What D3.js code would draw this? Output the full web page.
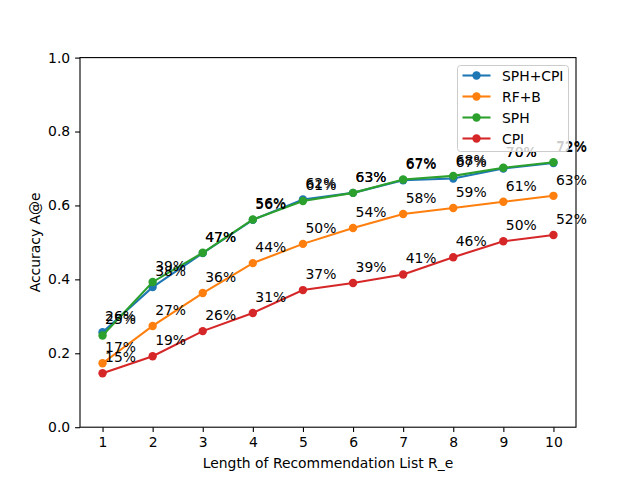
<!DOCTYPE html>
<html>
<head>
<meta charset="utf-8">
<script src="https://cdn.jsdelivr.net/npm/d3@7"></script>
<style>
  body { margin: 0; background: #fff; }
  text { font-family: "DejaVu Sans", sans-serif; }
</style>
</head>
<body>
<div id="chart"></div>
<script>
// list lengths on the x axis
var listLengths = [1, 2, 3, 4, 5, 6, 7, 8, 9, 10];
// accuracy for each method
var sphCpi = [0.257, 0.379, 0.471, 0.561, 0.616, 0.634, 0.668, 0.673, 0.700, 0.715];
var rfB    = [0.173, 0.274, 0.363, 0.444, 0.496, 0.539, 0.577, 0.593, 0.610, 0.626];
var sph    = [0.248, 0.393, 0.472, 0.562, 0.612, 0.634, 0.670, 0.680, 0.702, 0.717];
var cpi    = [0.146, 0.192, 0.260, 0.309, 0.371, 0.390, 0.413, 0.460, 0.503, 0.520];
var seriesNames = ['SPH+CPI', 'RF+B', 'SPH', 'CPI'];
var seriesColors = ['#1f77b4', '#ff7f0e', '#2ca02c', '#d62728'];
var yTicks = [0.0, 0.2, 0.4, 0.6, 0.8, 1.0];

var allSeries = [sphCpi, rfB, sph, cpi];

var width = 640, height = 480;
var plotL = 80, plotR = 576, plotT = 57.6, plotB = 427.2;

var svg = d3.select('#chart').append('svg')
    .attr('width', width)
    .attr('height', height);

var x = d3.scaleLinear().domain([0.55, 10.45]).range([plotL, plotR]);
var y = d3.scaleLinear().domain([0, 1]).range([plotB, plotT]);

//axes
var xAxis = svg.append('g')
    .attr('transform', 'translate(0,' + plotB + ')')
    .call(d3.axisBottom(x).tickValues(listLengths).tickSize(4.9).tickPadding(4.9).tickFormat(d3.format('d')));
var yAxis = svg.append('g')
    .attr('transform', 'translate(' + plotL + ',0)')
    .call(d3.axisLeft(y).tickValues(yTicks).tickSize(4.9).tickPadding(4.9).tickFormat(d3.format('.1f')));

[xAxis, yAxis].forEach(function (a) {
  a.select('.domain').remove();
  a.selectAll('.tick line').attr('stroke', '#000').attr('stroke-width', 1.1);
  a.selectAll('.tick text').attr('fill', '#000').style('font-size', '13.9px')
    .style('font-family', '"DejaVu Sans", sans-serif');
});

//lines and markers
var line = d3.line()
    .x(function (d, i) { return x(listLengths[i]); })
    .y(function (d) { return y(d); });

allSeries.forEach(function (vals, s) {
  svg.append('path')
      .datum(vals)
      .attr('d', line)
      .attr('fill', 'none')
      .attr('stroke', seriesColors[s])
      .attr('stroke-width', 2.08);
  svg.selectAll('.pt' + s)
      .data(vals)
      .enter().append('circle')
      .attr('cx', function (d, i) { return x(listLengths[i]); })
      .attr('cy', function (d) { return y(d); })
      .attr('r', 4.2)
      .attr('fill', seriesColors[s]);
});

//value labels (above all lines)
allSeries.forEach(function (vals) {
  svg.selectAll(null)
      .data(vals)
      .enter().append('text')
      .attr('x', function (d, i) { return x(listLengths[i] + 0.05); })
      .attr('y', function (d) { return y(d + 0.03); })
      .style('font-size', '13.9px')
      .attr('fill', '#000')
      .text(function (d) { return Math.round(d * 100) + '%'; });
});

//frame
svg.append('rect')
    .attr('x', plotL).attr('y', plotT)
    .attr('width', plotR - plotL).attr('height', plotB - plotT)
    .attr('fill', 'none').attr('stroke', '#000').attr('stroke-width', 1.1);

//axis titles
svg.append('text')
    .attr('x', (plotL + plotR) / 2).attr('y', 468)
    .attr('text-anchor', 'middle')
    .style('font-size', '13.9px')
    .text('Length of Recommendation List R_e');
svg.append('text')
    .attr('transform', 'translate(40,' + ((plotT + plotB) / 2) + ') rotate(-90)')
    .attr('text-anchor', 'middle')
    .style('font-size', '13.9px')
    .text('Accuracy A@e');

//legend
var lg = svg.append('g').attr('transform', 'translate(457.5,65.5)');
lg.append('rect')
    .attr('width', 111).attr('height', 86).attr('rx', 3)
    .attr('fill', '#fff').attr('fill-opacity', 0.8)
    .attr('stroke', '#ccc').attr('stroke-width', 1);
seriesNames.forEach(function (name, i) {
  var ly = 10 + i * 21;
  lg.append('line').attr('x1', 5).attr('x2', 33).attr('y1', ly).attr('y2', ly)
      .attr('stroke', seriesColors[i]).attr('stroke-width', 2.08);
  lg.append('circle').attr('cx', 19).attr('cy', ly).attr('r', 4.2).attr('fill', seriesColors[i]);
  lg.append('text').attr('x', 44.5).attr('y', ly + 5)
      .style('font-size', '13.9px').text(name);
});
</script>
</body>
</html>
